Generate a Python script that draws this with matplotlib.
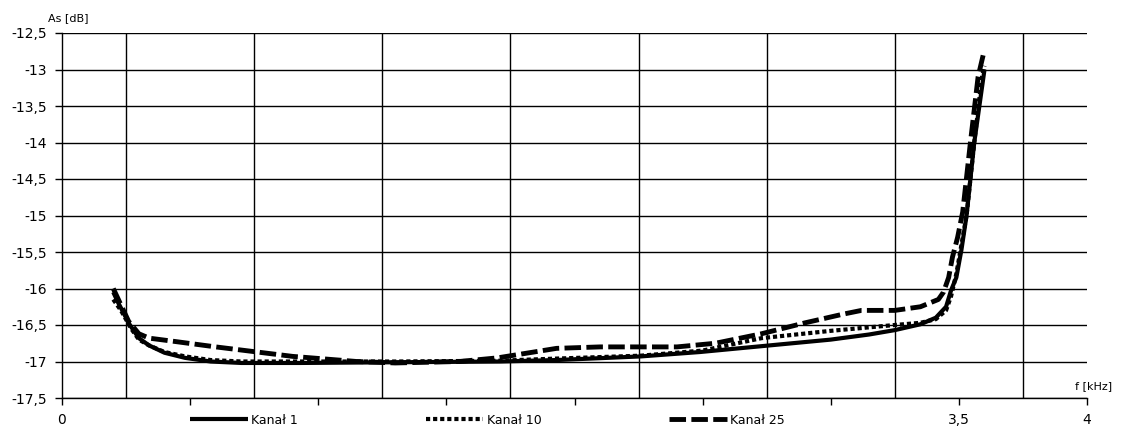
import matplotlib
matplotlib.use('Agg')
import matplotlib.pyplot as plt
from matplotlib.ticker import FixedLocator

# Frequency [kHz] and attenuation [dB]
f_k1 = [0.20, 0.22, 0.265, 0.30, 0.34, 0.40, 0.48, 0.58, 0.70, 0.93, 1.32, 1.71,
        1.93, 2.26, 2.49, 2.73, 3.00, 3.15, 3.25, 3.35, 3.41, 3.45, 3.47, 3.49,
        3.51, 3.53, 3.56, 3.60]
as_k1 = [-16.05, -16.2, -16.5, -16.68, -16.78, -16.88, -16.95, -17.0, -17.02, -17.02,
         -17.01, -17.0, -16.98, -16.93, -16.87, -16.79, -16.7, -16.63, -16.57, -16.49,
         -16.4, -16.25, -16.02, -15.85, -15.47, -15.0, -14.0, -13.0]

f_k10 = [0.20, 0.23, 0.27, 0.30, 0.34, 0.40, 0.48, 0.58, 0.70, 1.0, 1.3, 1.7,
         1.93, 2.26, 2.5, 2.73, 3.0, 3.25, 3.35, 3.41, 3.45, 3.47, 3.49, 3.51,
         3.53, 3.56, 3.59, 3.60]
as_k10 = [-16.15, -16.3, -16.55, -16.7, -16.78, -16.87, -16.93, -16.98, -17.0, -17.0,
          -17.0, -16.99, -16.96, -16.92, -16.85, -16.68, -16.58, -16.5, -16.47, -16.42,
          -16.3, -16.1, -15.8, -15.4, -15.0, -14.0, -13.1, -12.95]

f_k25 = [0.20, 0.22, 0.26, 0.30, 0.34, 0.45, 0.60, 0.90, 1.15, 1.30, 1.55, 1.70,
         1.93, 2.10, 2.40, 2.55, 2.73, 2.90, 3.05, 3.12, 3.25, 3.35, 3.42, 3.44,
         3.46, 3.475, 3.495, 3.515, 3.545, 3.575, 3.595]
as_k25 = [-16.0, -16.15, -16.45, -16.62, -16.68, -16.73, -16.8, -16.93, -17.0, -17.02,
          -17.0, -16.95, -16.82, -16.8, -16.8, -16.75, -16.62, -16.47, -16.35, -16.3,
          -16.3, -16.25, -16.15, -16.05, -15.85, -15.57, -15.3, -14.95, -14.0, -13.1, -12.8]

y_ticks = [-17.5, -17, -16.5, -16, -15.5, -15, -14.5, -14, -13.5, -13, -12.5]
x_major = [0, 0.5, 1, 1.5, 2, 2.5, 3, 3.5, 4]
x_labels = ['0', '', '', '', '', '', '', '3,5', '4']
x_grid = [0.25, 0.75, 1.25, 1.75, 2.25, 2.75, 3.25, 3.75]

fig = plt.figure(figsize=(11.28, 4.47), dpi=100)
ax = fig.add_axes([62/1128, 49/447, 1025/1128, 365/447])

ax.plot(f_k1, as_k1, color='black', lw=3.0, solid_capstyle='butt', label='Kanał 1', zorder=3)
ax.plot(f_k10, as_k10, color='black', lw=3.0, dashes=(1, 0.7), dash_capstyle='butt',
        label='Kanał 10', zorder=3)
ax.plot(f_k25, as_k25, color='black', lw=3.5, dashes=(3.4, 1.1), dash_capstyle='butt',
        label='Kanał 25', zorder=3)

ax.set_xlim(0, 4)
ax.set_ylim(-17.5, -12.5)

ax.set_yticks(y_ticks)
ax.set_yticklabels([f'{v:g}'.replace('.', ',') for v in y_ticks], fontsize=10)
ax.set_xticks(x_major)
ax.set_xticklabels(x_labels, fontsize=10)
ax.xaxis.set_minor_locator(FixedLocator(x_grid))
ax.tick_params(axis='x', which='minor', length=0)
ax.tick_params(axis='both', which='major', length=5, width=1, color='black', pad=6)

ax.grid(True, axis='y', which='major', color='black', lw=1)
ax.grid(True, axis='x', which='minor', color='black', lw=1)
for s in ['top', 'right']:
    ax.spines[s].set_visible(False)
for s in ['left', 'bottom']:
    ax.spines[s].set_linewidth(1)

fig.text(48/1128, 1 - 18/447, 'As [dB]', fontsize=8, va='center', ha='left')
fig.text(1112/1128, 1 - 386/447, 'f [kHz]', fontsize=8, va='center', ha='right')

fig.legend(loc='center left', bbox_to_anchor=(190/1128, 1 - 420/447), ncol=3,
           frameon=False, fontsize=9, handlelength=4.6, handletextpad=0.3,
           columnspacing=10.2, borderpad=0, borderaxespad=0)

fig.savefig('out.png', dpi=100)
